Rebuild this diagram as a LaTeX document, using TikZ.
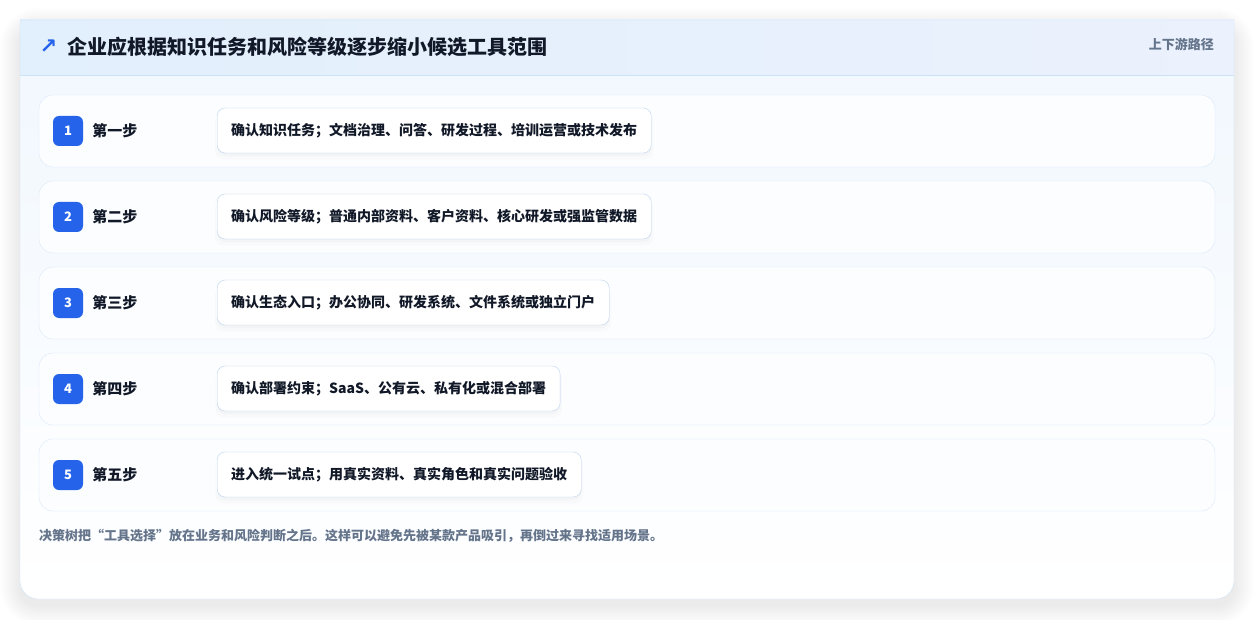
\documentclass[tikz,border=0pt]{standalone}
\usepackage{fontspec}
\setmainfont{Noto Sans CJK SC}
\newfontfamily\symfont{DejaVu Sans}
\usepackage{xcolor}
\usepackage{tikz}
\usetikzlibrary{positioning,shadows}

\definecolor{stepblue}{HTML}{2563EB}
\definecolor{inkdark}{HTML}{111827}
\definecolor{inkgray}{HTML}{64748B}
\definecolor{cardline}{HTML}{CCE2F6}
\definecolor{rowline}{HTML}{DBE9F8}
\definecolor{rowfill}{HTML}{FBFDFF}
\definecolor{boxline}{HTML}{BCD2EF}
\definecolor{headleft}{HTML}{E2EFFC}
\definecolor{headright}{HTML}{EBF1FD}
\definecolor{bodytop}{HTML}{F0F7FE}

\begin{document}
\begin{tikzpicture}[x=1pt, y=-1pt,
badge/.style = {fill=stepblue, text=white, rounded corners=6pt,
  minimum size=30pt, inner sep=0pt,
  font=\fontsize{13}{13}\selectfont\bfseries},
steplabel/.style = {inner sep=0pt, text=inkdark,
  font=\fontsize{15}{15}\selectfont\bfseries},
taskbox/.style = {draw=boxline, fill=white, rounded corners=8pt,
  minimum height=45pt, inner xsep=14pt, inner ysep=0pt, text=inkdark,
  font=\fontsize{14}{14}\selectfont\bfseries,
  drop shadow={opacity=0.035, shadow xshift=0pt, shadow yshift=-3pt},
  drop shadow={opacity=0.03, shadow xshift=0pt, shadow yshift=-6pt,
    shadow scale=1.01}},
rowbox/.style = {draw=rowline, fill=rowfill, rounded corners=14pt},
note/.style = {inner sep=0pt, text=inkgray,
  font=\fontsize{13}{13}\selectfont\bfseries} ]
\useasboundingbox (0,0) rectangle (1255,620);

% card shadow
\foreach \s in {1,...,20} {
  \fill[black, opacity=0.0035, rounded corners={(18+\s)*1pt}]
    (20-\s,20-\s+8) rectangle (1234+\s,599+\s+6);
}
% card body
\shade[top color=bodytop, bottom color=white]
  (20,20) -- (20,581) arc[start angle=180, end angle=90, radius=18]
  -- (1216,599) arc[start angle=90, end angle=0, radius=18]
  -- (1234,20) -- cycle;
% header band
\shade[left color=headleft, right color=headright] (20,20) rectangle (1234,75);
\draw[cardline] (20,75) -- (1234,75);
\draw[cardline]
  (20,20) -- (20,581) arc[start angle=180, end angle=90, radius=18]
  -- (1216,599) arc[start angle=90, end angle=0, radius=18]
  -- (1234,20) -- cycle;

\node[inner sep=0pt, text=stepblue, font=\fontsize{21}{21}\selectfont\symfont\bfseries]
  (arrow) at (48.5,47) {↗};
\node[inner sep=0pt, anchor=west, text=inkdark,
  font=\fontsize{20}{20}\selectfont\bfseries] (title) at (67,47)
  {企业应根据知识任务和风险等级逐步缩小候选工具范围};
\node[note, anchor=east] (path) at (1214,44) {上下游路径};

% steps
\foreach \i/\lab/\txt in {
  1/第一步/确认知识任务；文档治理、问答、研发过程、培训运营或技术发布,
  2/第二步/确认风险等级；普通内部资料、客户资料、核心研发或强监管数据,
  3/第三步/确认生态入口；办公协同、研发系统、文件系统或独立门户,
  4/第四步/确认部署约束；SaaS、公有云、私有化或混合部署,
  5/第五步/进入统一试点；用真实资料、真实角色和真实问题验收} {
  \pgfmathsetmacro{\ytop}{95+(\i-1)*86}
  \draw[rowbox] (39,\ytop) rectangle (1215,\ytop+72);
  \node[badge] (badge\i) at (68,\ytop+36) {\i};
  \node[steplabel, right=9pt of badge\i] (label\i) {\lab};
  \node[taskbox, anchor=west] (task\i) at (217,\ytop+35.5) {\txt};
}

\node[note, anchor=west] (footnote) at (39,536)
  {决策树把“工具选择”放在业务和风险判断之后。这样可以避免先被某款产品吸引，再倒过来寻找适用场景。};
\end{tikzpicture}
\end{document}
